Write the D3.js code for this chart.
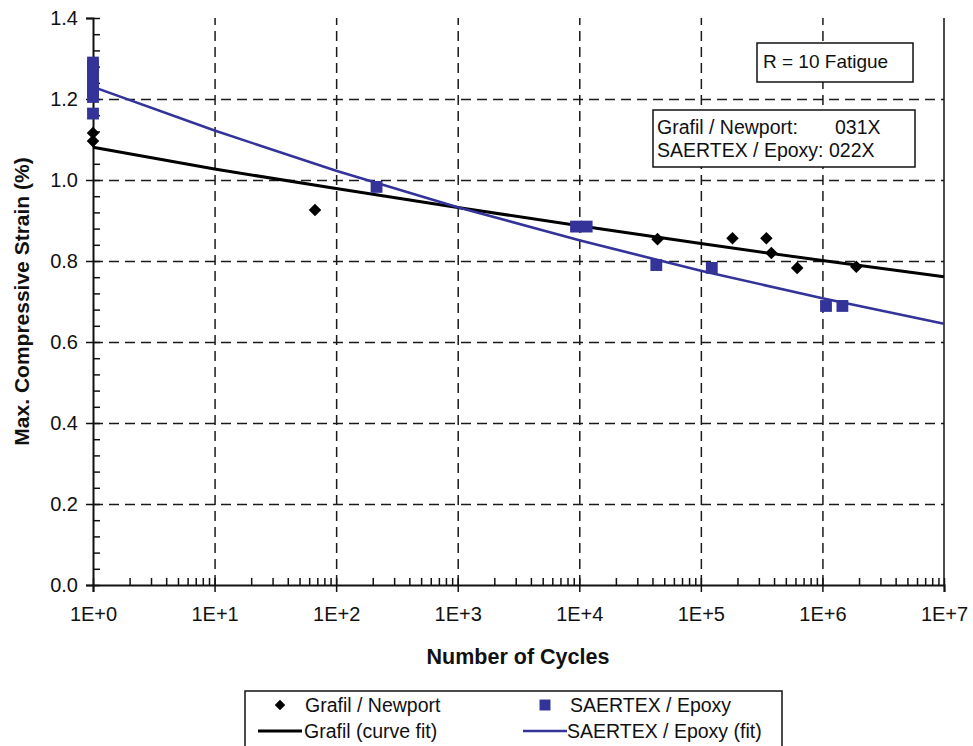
<!DOCTYPE html>
<html>
<head>
<meta charset="utf-8">
<script src="https://cdn.jsdelivr.net/npm/d3@7"></script>
<style>
  body { margin: 0; background: #fff; }
  svg text { font-family: "Liberation Sans", Arial, sans-serif; fill: #111; }
</style>
</head>
<body>
<div class="chart"></div>
<script>
// data
const grafilCycles = [1, 1, 67, 4.4e4, 1.82e5, 3.46e5, 3.8e5, 6.2e5, 1.9e6];
const grafilStrain = [1.116, 1.096, 0.926, 0.854, 0.856, 0.856, 0.82, 0.783, 0.786];

const saertexCycles = [1, 1, 1, 1, 1, 1, 1, 1, 215, 9.4e3, 1.15e4, 4.3e4, 1.23e5, 1.07e6, 1.46e6];
const saertexStrain = [1.29, 1.28, 1.265, 1.25, 1.235, 1.22, 1.205, 1.164, 0.983, 0.885, 0.885, 0.79, 0.783, 0.689, 0.689];

// curve fits read at each decade
const fitCycles = [1, 1e1, 1e2, 1e3, 1e4, 1e5, 1e6, 1e7];
const grafilFit = [1.081, 1.027, 0.979, 0.932, 0.887, 0.843, 0.801, 0.761];
const saertexFit = [1.23, 1.122, 1.023, 0.933, 0.851, 0.776, 0.708, 0.645];

const xTicks = [1, 1e1, 1e2, 1e3, 1e4, 1e5, 1e6, 1e7];
const yTicks = [0, 0.2, 0.4, 0.6, 0.8, 1.0, 1.2, 1.4];

const blue = '#333399';

function drawChart() {
    const width = 973, height = 746;
    const left = 93, right = 944, top = 18, bottom = 585;

    const svg = d3.select('.chart').append('svg')
        .attr('width', width).attr('height', height);

    const x = d3.scaleLog().domain([1, 1e7]).range([left, right]);
    const y = d3.scaleLinear().domain([0, 1.4]).range([bottom, top]);

    // gridlines (dashed)
    svg.append('g')
        .attr('transform', `translate(0,${bottom})`)
        .call(d3.axisBottom(x).tickValues(xTicks.slice(1, 7)).tickSize(-(bottom - top)).tickFormat(''))
        .call(g => g.select('.domain').remove())
        .selectAll('line').attr('stroke', '#1a1a1a').attr('stroke-width', 1.5).attr('stroke-dasharray', '10,6');
    svg.append('g')
        .attr('transform', `translate(${left},0)`)
        .call(d3.axisRight(y).tickValues(yTicks.slice(1, 7)).tickSize(right - left).tickFormat(''))
        .call(g => g.select('.domain').remove())
        .selectAll('line').attr('stroke', '#1a1a1a').attr('stroke-width', 1.5).attr('stroke-dasharray', '10,6');

    // right border
    svg.append('line')
        .attr('x1', right).attr('x2', right).attr('y1', top).attr('y2', bottom)
        .attr('stroke', '#111').attr('stroke-width', 1.5);

    // minor ticks (inside)
    const xMinor = [];
    for (let e = 0; e < 7; e++) for (let m = 2; m <= 9; m++) xMinor.push(m * Math.pow(10, e));
    svg.append('g')
        .attr('transform', `translate(0,${bottom})`)
        .call(d3.axisTop(x).tickValues(xMinor.concat(xTicks)).tickSize(7).tickFormat(''))
        .call(g => g.select('.domain').remove())
        .selectAll('line').attr('stroke', '#111').attr('stroke-width', 1.5);
    const yMinor = d3.range(0, 1.401, 0.04);
    svg.append('g')
        .attr('transform', `translate(${left},0)`)
        .call(d3.axisRight(y).tickValues(yMinor).tickSize(7).tickFormat(''))
        .call(g => g.select('.domain').remove())
        .selectAll('line').attr('stroke', '#111').attr('stroke-width', 1.5);

    // axes
    const xAxis = svg.append('g')
        .attr('transform', `translate(0,${bottom})`)
        .call(d3.axisBottom(x).tickValues(xTicks).tickSize(7).tickPadding(15)
            .tickFormat(d => '1E+' + Math.round(Math.log10(d))));
    const yAxis = svg.append('g')
        .attr('transform', `translate(${left},0)`)
        .call(d3.axisLeft(y).tickValues(yTicks).tickSize(7).tickPadding(8).tickFormat(d3.format('.1f')));
    [xAxis, yAxis].forEach(a => {
        a.select('.domain').attr('stroke', '#111').attr('stroke-width', 2);
        a.selectAll('line').attr('stroke', '#111').attr('stroke-width', 1.5);
        a.selectAll('text').style('font-size', '20px').attr('fill', '#222');
    });

    // axis titles
    svg.append('text')
        .attr('x', 518).attr('y', 664)
        .attr('text-anchor', 'middle')
        .style('font-size', '21.5px').style('font-weight', 'bold')
        .text('Number of Cycles');
    svg.append('text')
        .attr('transform', `translate(29,${(top + bottom) / 2}) rotate(-90)`)
        .attr('text-anchor', 'middle')
        .style('font-size', '21px').style('font-weight', 'bold')
        .text('Max. Compressive Strain (%)');

    // fit lines
    const line = d3.line().x(d => x(d[0])).y(d => y(d[1]));
    svg.append('path')
        .datum(fitCycles.map((c, i) => [c, grafilFit[i]]))
        .attr('d', line).attr('fill', 'none').attr('stroke', '#000').attr('stroke-width', 3);
    svg.append('path')
        .datum(fitCycles.map((c, i) => [c, saertexFit[i]]))
        .attr('d', line).attr('fill', 'none').attr('stroke', blue).attr('stroke-width', 2.6);

    // points
    const diamond = d3.symbol().type(d3.symbolDiamond2).size(100);
    const square = d3.symbol().type(d3.symbolSquare).size(140);
    svg.append('g').selectAll('path')
        .data(saertexCycles.map((c, i) => [c, saertexStrain[i]]))
        .join('path')
        .attr('d', square)
        .attr('transform', d => `translate(${x(d[0])},${y(d[1])})`)
        .attr('fill', blue);
    svg.append('g').selectAll('path')
        .data(grafilCycles.map((c, i) => [c, grafilStrain[i]]))
        .join('path')
        .attr('d', diamond)
        .attr('transform', d => `translate(${x(d[0])},${y(d[1])})`)
        .attr('fill', '#000');

    // text boxes
    svg.append('rect').attr('x', 757).attr('y', 43).attr('width', 156).attr('height', 39)
        .attr('fill', '#fff').attr('stroke', '#111').attr('stroke-width', 1.5);
    svg.append('text').attr('x', 763).attr('y', 68).style('font-size', '19px').text('R = 10 Fatigue');

    svg.append('rect').attr('x', 653).attr('y', 110).attr('width', 262).attr('height', 57)
        .attr('fill', '#fff').attr('stroke', '#111').attr('stroke-width', 1.5);
    svg.append('text').attr('x', 657).attr('y', 134).style('font-size', '19.5px').text('Grafil / Newport:');
    svg.append('text').attr('x', 835).attr('y', 134).style('font-size', '19.5px').text('031X');
    svg.append('text').attr('x', 657).attr('y', 157).style('font-size', '19.5px').text('SAERTEX / Epoxy: 022X');

    // legend
    svg.append('rect').attr('x', 245).attr('y', 691).attr('width', 537).attr('height', 70)
        .attr('fill', '#fff').attr('stroke', '#111').attr('stroke-width', 1.5);
    const lg = svg.append('g').style('font-size', '19.5px');
    lg.append('path').attr('d', d3.symbol().type(d3.symbolDiamond2).size(70))
        .attr('transform', 'translate(280,705)').attr('fill', '#000');
    lg.append('text').attr('x', 305).attr('y', 712).text('Grafil / Newport');
    lg.append('path').attr('d', d3.symbol().type(d3.symbolSquare).size(120))
        .attr('transform', 'translate(545,705)').attr('fill', blue);
    lg.append('text').attr('x', 570).attr('y', 712).text('SAERTEX / Epoxy');
    lg.append('line').attr('x1', 258).attr('x2', 302).attr('y1', 731).attr('y2', 731)
        .attr('stroke', '#000').attr('stroke-width', 3);
    lg.append('text').attr('x', 304).attr('y', 738).text('Grafil (curve fit)');
    lg.append('line').attr('x1', 523).attr('x2', 567).attr('y1', 731).attr('y2', 731)
        .attr('stroke', blue).attr('stroke-width', 2.6);
    lg.append('text').attr('x', 567).attr('y', 738).text('SAERTEX / Epoxy (fit)');
}

drawChart();
</script>
</body>
</html>
